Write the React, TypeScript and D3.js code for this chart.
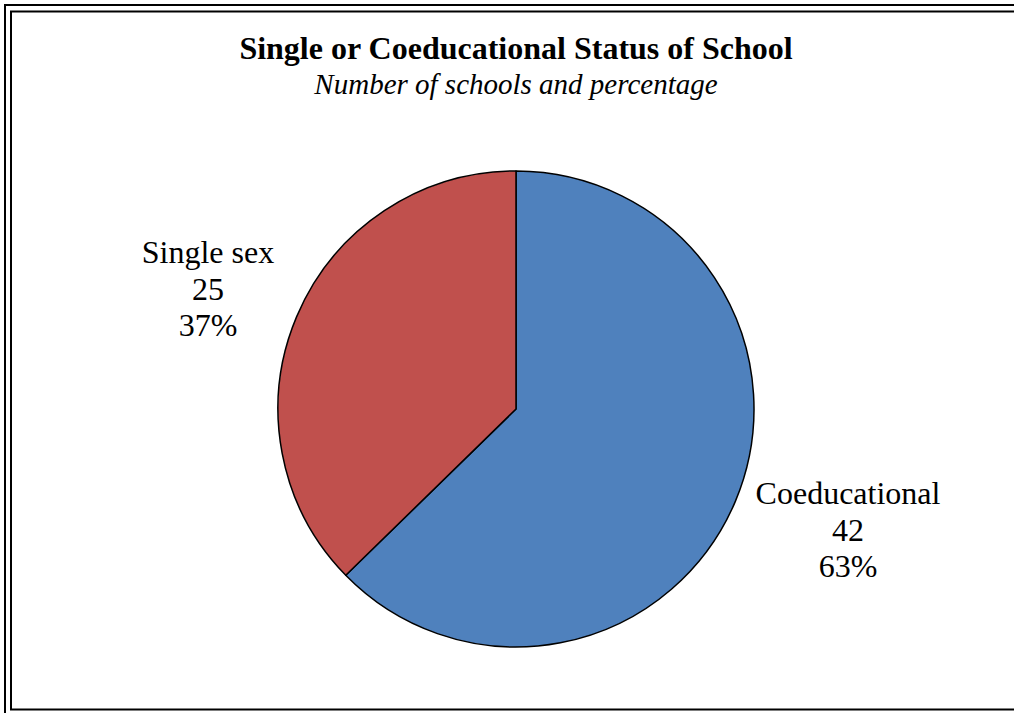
import React from "react";
import * as d3 from "d3";

const categories = ["Coeducational", "Single sex"];
const counts = [42, 25];
const percents = ["63%", "37%"];
const colors = ["#4F81BD", "#C0504D"];
const title = "Single or Coeducational Status of School";
const subtitle = "Number of schools and percentage";

const W = 1014;
const H = 713;

export default function App() {
  const cx = 516;
  const cy = 409;
  const r = 238;
  const pie = d3.pie<number>().sort(null).value((d) => d);
  const arcs = pie(counts);
  const arc = d3.arc<d3.PieArcDatum<number>>().innerRadius(0).outerRadius(r);
  const labelPos = [
    { x: 848, y: 504 },
    { x: 208, y: 263 },
  ];
  const font = "'Liberation Serif', 'Times New Roman', serif";
  return (
    <svg
      width={W}
      height={H}
      style={{ position: "absolute", left: 0, top: 0, background: "#fff" }}
    >
      <rect x={0} y={0} width={W} height={H} fill="#fff" />
      <rect x={5} y={5} width={1020} height={720} fill="none" stroke="#000" strokeWidth={2} />
      <rect x={11} y={11.5} width={1020} height={698} fill="none" stroke="#000" strokeWidth={2} />
      <text x={516} y={59} textAnchor="middle" fontFamily={font} fontWeight="bold" fontSize={32}>
        {title}
      </text>
      <text x={516} y={94} textAnchor="middle" fontFamily={font} fontStyle="italic" fontSize={29}>
        {subtitle}
      </text>
      <g transform={`translate(${cx},${cy})`}>
        {arcs.map((a, i) => (
          <path key={i} d={arc(a) || ""} fill={colors[i]} stroke="#000" strokeWidth={1.5} strokeLinejoin="round" />
        ))}
      </g>
      {categories.map((c, i) => (
        <text key={c} textAnchor="middle" fontFamily={font} fontSize={32} fill="#000">
          <tspan x={labelPos[i].x} y={labelPos[i].y}>{c}</tspan>
          <tspan x={labelPos[i].x} y={labelPos[i].y + 37}>{counts[i]}</tspan>
          <tspan x={labelPos[i].x} y={labelPos[i].y + 73}>{percents[i]}</tspan>
        </text>
      ))}
    </svg>
  );
}
